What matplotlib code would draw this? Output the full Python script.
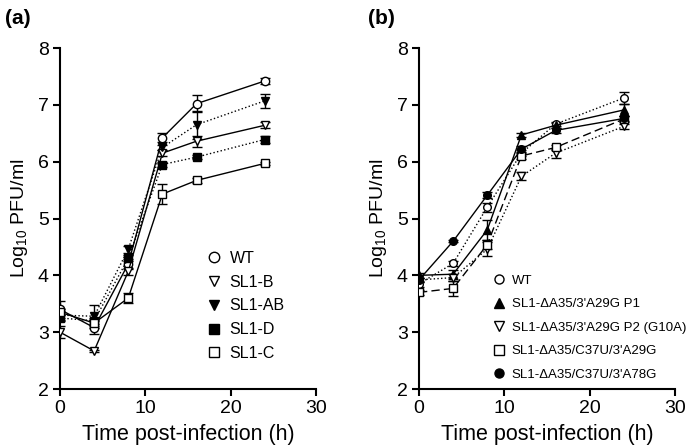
import numpy as np
import matplotlib
matplotlib.use("Agg")
import matplotlib.pyplot as plt
from matplotlib.lines import Line2D

plt.rcParams['font.family'] = ['Liberation Sans', 'DejaVu Sans']
plt.rcParams['mathtext.fontset'] = 'custom'
plt.rcParams['mathtext.rm'] = 'Liberation Sans'

time_h = [0, 4, 8, 12, 16, 24]

# panel (a)
a_labels = ["WT", "SL1-B", "SL1-AB", "SL1-D", "SL1-C"]
a_wt = [3.40, 3.08, 4.20, 6.42, 7.02, 7.42]
a_wt_err = [0.15, 0.12, 0.08, 0.08, 0.15, 0.05]
a_b = [3.00, 2.67, 4.07, 6.15, 6.36, 6.64]
a_b_err = [0.10, 0.02, 0.06, 0.05, 0.10, 0.05]
a_ab = [3.30, 3.28, 4.46, 6.25, 6.65, 7.07]
a_ab_err = [0.08, 0.20, 0.06, 0.05, 0.25, 0.12]
a_d = [3.25, 3.20, 4.30, 5.95, 6.08, 6.39]
a_d_err = [0.05, 0.05, 0.05, 0.04, 0.03, 0.07]
a_c = [3.35, 3.16, 3.60, 5.43, 5.67, 5.97]
a_c_err = [0.05, 0.06, 0.09, 0.18, 0.05, 0.03]

# panel (b)
b_labels = ["WT", "SL1-\u0394A35/3'A29G P1", "SL1-\u0394A35/3'A29G P2 (G10A)",
            "SL1-\u0394A35/C37U/3'A29G", "SL1-\u0394A35/C37U/3'A78G"]
b_wt = [3.85, 4.21, 5.20, 6.15, 6.66, 7.12]
b_wt_err = [0.05, 0.04, 0.08, 0.05, 0.04, 0.10]
b_p1 = [4.00, 4.02, 4.80, 6.47, 6.64, 6.91]
b_p1_err = [0.04, 0.08, 0.17, 0.03, 0.04, 0.10]
b_p2 = [3.92, 3.96, 4.46, 5.74, 6.15, 6.62]
b_p2_err = [0.04, 0.06, 0.12, 0.07, 0.08, 0.05]
b_sq = [3.70, 3.77, 4.54, 6.10, 6.25, 6.75]
b_sq_err = [0.04, 0.13, 0.08, 0.06, 0.04, 0.05]
b_fc = [3.92, 4.60, 5.41, 6.22, 6.55, 6.76]
b_fc_err = [0.04, 0.02, 0.05, 0.05, 0.05, 0.05]

a_series = [
    (a_wt, a_wt_err, 'o', 'white', '-'),
    (a_b, a_b_err, 'v', 'white', '-'),
    (a_ab, a_ab_err, 'v', 'black', ':'),
    (a_d, a_d_err, 's', 'black', ':'),
    (a_c, a_c_err, 's', 'white', '-'),
]
b_series = [
    (b_wt, b_wt_err, 'o', 'white', ':'),
    (b_p1, b_p1_err, '^', 'black', '-'),
    (b_p2, b_p2_err, 'v', 'white', ':'),
    (b_sq, b_sq_err, 's', 'white', (0, (6, 3))),
    (b_fc, b_fc_err, 'o', 'black', '-'),
]

fig = plt.figure(figsize=(6.93, 4.47), dpi=100)
ax_a = fig.add_axes([60/693, 1-389/447, 256/693, 341/447])
ax_b = fig.add_axes([419/693, 1-389/447, 256/693, 341/447])


def draw(ax, series, labels, leg_anchor, leg_size, spacing, ms, leg_ms):
    handles = []
    for vals, err, mk, fc, ls in series:
        ax.errorbar(time_h, vals, yerr=err, color='black', linestyle=ls, linewidth=1.0,
                    marker=mk, markersize=ms, markerfacecolor=fc, markeredgecolor='black',
                    markeredgewidth=1.0, ecolor='black', elinewidth=1.0, capsize=3.5,
                    capthick=1.0, zorder=3)
        handles.append(Line2D([], [], linestyle='none', marker=mk, markersize=leg_ms,
                              markerfacecolor=fc, markeredgecolor='black', markeredgewidth=1.0))
    ax.set_xlim(0, 30)
    ax.set_ylim(2, 8)
    ax.set_xticks([0, 10, 20, 30])
    ax.set_yticks([2, 3, 4, 5, 6, 7, 8])
    ax.spines['top'].set_visible(False)
    ax.spines['right'].set_visible(False)
    for s in ('left', 'bottom'):
        ax.spines[s].set_linewidth(1.5)
    ax.tick_params(direction='out', length=5, width=1.5, labelsize=14, pad=3)
    ax.set_xlabel('Time post-infection (h)', fontsize=15.5, labelpad=5)
    ax.set_ylabel(r'Log$_{\mathregular{10}}$ PFU/ml', fontsize=14, labelpad=6)
    ax.legend(handles, labels, loc='upper left', bbox_to_anchor=leg_anchor, frameon=False,
              fontsize=leg_size, handlelength=0.9, handletextpad=0.5, labelspacing=spacing,
              borderaxespad=0, borderpad=0)


draw(ax_a, a_series, a_labels, (0.575, 0.405), 11.5, 0.55, 6, 7.5)
draw(ax_b, b_series, b_labels, (0.29, 0.335), 9.5, 0.85, 5.5, 6.5)

fig.text(5/693, 1-18/447, '(a)', fontsize=15, fontweight='bold', va='center')
fig.text(368/693, 1-18/447, '(b)', fontsize=15, fontweight='bold', va='center')

fig.savefig('out.png', dpi=100)
